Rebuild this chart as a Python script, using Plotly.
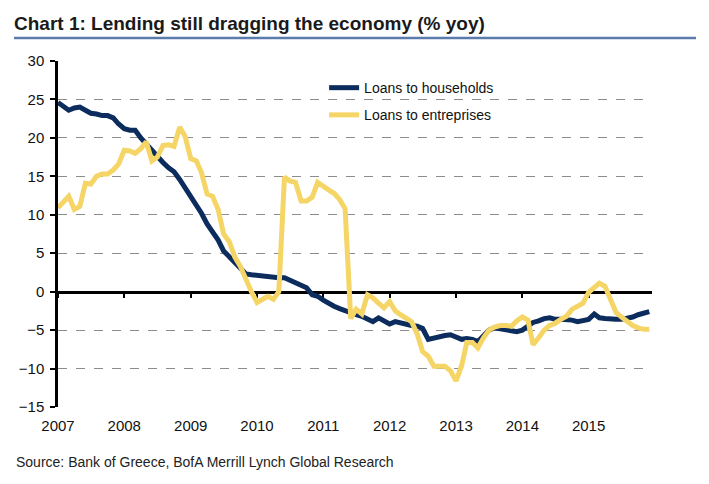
import pandas as pd
import plotly.graph_objects as go

# Monthly dates Jan 2007 .. Dec 2015
dates = pd.date_range("2007-01-01", "2015-12-01", freq="MS").strftime("%Y-%m-%d").tolist()

households = [
    24.6, 24.0, 23.6, 23.9, 24.0, 23.6, 23.2, 23.1, 22.9, 22.9, 22.6, 21.8,   # 2007
    21.2, 21.0, 21.0, 20.0, 19.2, 18.3, 17.4, 16.8, 16.1, 15.6, 14.6, 13.5,   # 2008
    12.5, 11.3, 10.2, 8.8, 7.7, 6.7, 5.3, 4.5, 3.7, 3.0, 2.3, 2.2,            # 2009
    2.1, 2.0, 2.0, 1.9, 1.8, 1.8, 1.5, 1.1, 0.9, 0.5, -0.4, -0.6,             # 2010
    -1.1, -1.6, -1.9, -2.2, -2.5, -2.7, -3.0, -3.2, -3.5, -3.9, -3.4, -3.8,   # 2011
    -4.2, -3.9, -4.1, -4.3, -4.4, -4.5, -4.8, -6.2, -6.0, -5.8, -5.7, -5.6,   # 2012
    -5.9, -6.2, -6.1, -6.2, -6.5, -5.8, -5.0, -4.7, -4.8, -4.9, -5.0, -5.2,   # 2013
    -5.0, -4.5, -4.0, -3.8, -3.5, -3.4, -3.6, -3.6, -3.6, -3.7, -3.9, -3.7,   # 2014
    -3.6, -2.9, -3.4, -3.5, -3.6, -3.6, -3.6, -3.5, -3.3, -3.0, -2.8, -2.6,   # 2015
]

enterprises = [
    10.9, 11.6, 12.4, 10.7, 11.1, 14.1, 14.0, 15.0, 15.3, 15.3, 15.8, 16.6,   # 2007
    18.4, 18.3, 18.0, 18.6, 19.5, 17.0, 17.5, 19.0, 19.1, 18.9, 21.4, 20.2,   # 2008
    17.3, 17.0, 15.5, 12.7, 12.4, 10.7, 7.5, 6.5, 4.5, 3.3, 1.4, 0.0,         # 2009
    -1.4, -1.0, -0.6, -1.0, 0.0, 14.9, 14.4, 14.2, 11.8, 11.8, 12.3, 14.2,    # 2010
    13.6, 13.2, 12.8, 12.0, 10.8, -3.5, -2.3, -2.9, -0.4, -0.8, -1.5, -2.1,   # 2011
    -1.3, -2.5, -3.0, -3.4, -3.9, -5.5, -7.8, -8.4, -9.7, -9.7, -9.7, -10.3,  # 2012
    -11.6, -9.6, -6.6, -6.6, -7.3, -6.0, -5.0, -4.6, -4.4, -4.4, -4.5, -3.8,  # 2013
    -3.3, -3.7, -6.9, -6.0, -5.0, -4.4, -4.1, -3.6, -3.2, -2.3, -1.8, -1.5,   # 2014
    -0.1, 0.6, 1.1, 0.7, -1.2, -2.7, -3.3, -3.9, -4.4, -4.7, -4.9, -4.9,      # 2015
]

year_ticks = ["2007-01-01", "2008-01-01", "2009-01-01", "2010-01-01", "2011-01-01",
              "2012-01-01", "2013-01-01", "2014-01-01", "2015-01-01"]
year_labels = ["2007", "2008", "2009", "2010", "2011", "2012", "2013", "2014", "2015"]

NAVY = "#0b2c5c"
YELLOW = "#f4d566"
ARIAL = "Arial"

# page body has an 8px default margin; layout positions compensate for it
OFF = 8
W, H = 709, 484
PL, PR, PT, PB = 58 - OFF, 652 - OFF, 61 - OFF, 407 - OFF   # plot area in figure px
PW, PH = PR - PL, PB - PT

fig = go.Figure()
# invisible carrier so the zero-line axis (x2) is drawn
fig.add_trace(go.Scatter(x=dates, y=households, mode="lines", xaxis="x2",
                         line=dict(color="rgba(0,0,0,0)", width=0), hoverinfo="skip",
                         showlegend=False))
fig.add_trace(go.Scatter(x=dates, y=households, mode="lines", name="Loans to households",
                         line=dict(color=NAVY, width=5), legendgroup="a"))
fig.add_trace(go.Scatter(x=dates, y=enterprises, mode="lines", name="Loans to entreprises",
                         line=dict(color=YELLOW, width=5), legendgroup="b"))

x_range = ["2007-01-01", "2015-12-16"]

fig.update_layout(
    width=W, height=H,
    margin=dict(l=PL, r=W - PR, t=PT, b=H - PB, autoexpand=False),
    paper_bgcolor="white", plot_bgcolor="white",
    font=dict(family=ARIAL, size=15, color="#111111"),
    title=dict(text="<b>Chart 1: Lending still dragging the economy (% yoy)</b>",
               font=dict(family=ARIAL, size=19, color="#1a1a1a"),
               x=(14 - OFF) / W, xanchor="left", xref="container",
               y=1 - (23 - OFF) / H, yanchor="middle", yref="container"),
    showlegend=True,
    legend=dict(x=0.448, y=0.968, xanchor="left", yanchor="top",
                font=dict(family=ARIAL, size=14, color="#111111"),
                bgcolor="rgba(0,0,0,0)", tracegroupgap=6, traceorder="grouped"),
    xaxis=dict(type="date", range=x_range, tickmode="array", tickvals=year_ticks,
               ticktext=year_labels, showgrid=False, zeroline=False, showline=False,
               automargin=False,
               ticks="outside", ticklen=5, tickcolor="rgba(0,0,0,0)",
               tickfont=dict(family=ARIAL, size=15, color="#111111")),
    xaxis2=dict(type="date", range=x_range, overlaying="x", matches="x",
                anchor="free", position=1 / 3, tickmode="array", tickvals=year_ticks,
                showticklabels=False, showgrid=False, zeroline=False, automargin=False,
                showline=True, linecolor="black", linewidth=2.5,
                ticks="outside", ticklen=5, tickwidth=2, tickcolor="black",
                layer="below traces"),
    yaxis=dict(range=[-15, 30], tickmode="linear", tick0=-15, dtick=5,
               showgrid=True, gridcolor="#8c8c8c", gridwidth=1, griddash="dash",
               zeroline=False, showline=True, linecolor="black", linewidth=2.5,
               automargin=False,
               ticks="outside", ticklen=5, tickwidth=2, tickcolor="black",
               ticklabelstandoff=3,
               tickfont=dict(family=ARIAL, size=15, color="#111111")),
    shapes=[dict(type="line", xref="paper", yref="paper",
                 x0=(14 - 58) / PW, x1=(696 - 58) / PW,
                 y0=(407 - 38) / PH, y1=(407 - 38) / PH,
                 line=dict(color="#5a7bab", width=2.5))],
    annotations=[dict(text="Source: Bank of Greece, BofA Merrill Lynch Global Research",
                      xref="paper", yref="paper", x=(14 - 58) / PW, y=-(462 - 407) / PH,
                      xanchor="left", yanchor="middle", showarrow=False,
                      font=dict(family=ARIAL, size=14, color="#222222"))],
)

fig.write_html("out.html")
